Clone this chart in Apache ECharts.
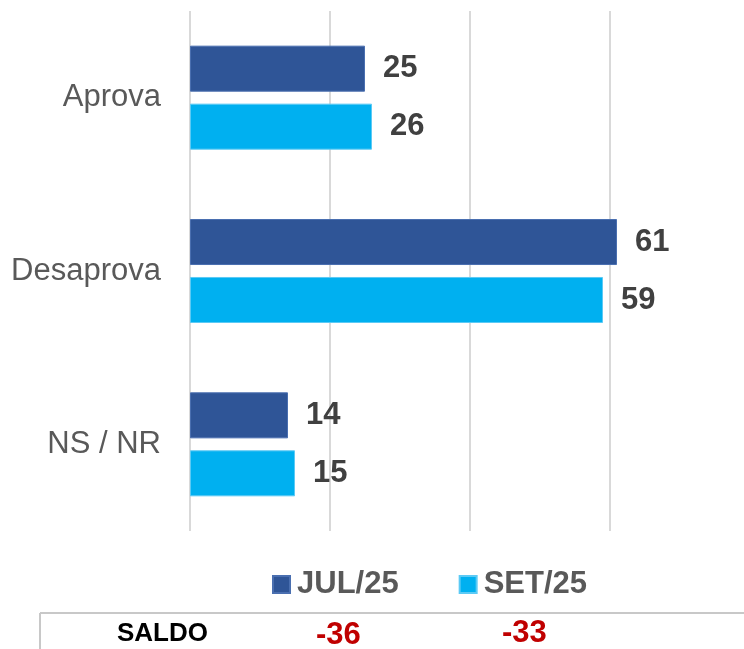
<!DOCTYPE html>
<html>
<head>
<meta charset="utf-8">
<script src="https://cdn.jsdelivr.net/npm/echarts@6/dist/echarts.min.js"></script>
<style>
  html, body { margin: 0; padding: 0; background: #fff; }
  #chart { width: 744px; height: 649px; }
</style>
</head>
<body>
<div id="chart"></div>
<script>
// categories and values
var categories = ["Aprova", "Desaprova", "NS / NR"];
var jul25 = [25, 61, 14];
var set25 = [26, 59, 15];
var seriesNames = ["JUL/25", "SET/25"];
var saldoLabel = "SALDO";
var saldo = ["-36", "-33"];

var font = "Liberation Sans, Arial, sans-serif";

var chart = echarts.init(document.getElementById("chart"));

var labelStyle = {
  show: true,
  position: "right",
  distance: 18,
  formatter: "{c}",
  color: "#404040",
  fontSize: 31,
  fontWeight: "bold",
  fontFamily: font
};

var option = {
  animation: false,
  grid: { left: 190, right: 0, top: 11, bottom: 118 },
  xAxis: {
    type: "value",
    min: 0,
    max: 79.14,
    interval: 20,
    axisLabel: { show: false },
    axisLine: { show: false },
    axisTick: { show: false },
    splitLine: { showMaxLine: false, lineStyle: { color: "#d9d9d9", width: 2 } }
  },
  yAxis: {
    type: "category",
    inverse: true,
    data: categories,
    axisLine: { show: false },
    axisTick: { show: false },
    axisLabel: {
      margin: 29,
      fontSize: 31,
      color: "#595959",
      fontFamily: font
    }
  },
  legend: {
    data: seriesNames,
    left: 267,
    top: 564,
    icon: "rect",
    itemWidth: 17,
    itemHeight: 17,
    itemGap: 60,
    textStyle: {
      fontSize: 31,
      fontWeight: "bold",
      color: "#595959",
      fontFamily: font,
      padding: [0, 0, 0, 2]
    }
  },
  series: [
    {
      name: seriesNames[0],
      type: "bar",
      data: jul25,
      barGap: "26%",
      barCategoryGap: "40%",
      itemStyle: { color: "#2F5597", borderColor: "#4a6fb0", borderWidth: 1 },
      label: labelStyle
    },
    {
      name: seriesNames[1],
      type: "bar",
      data: set25,
      itemStyle: { color: "#00B0F0", borderColor: "#5ccaf5", borderWidth: 1 },
      label: labelStyle
    }
  ],
  graphic: [
    {
      type: "line",
      shape: { x1: 40, y1: 613, x2: 744, y2: 613 },
      style: { stroke: "#c8c8c8", lineWidth: 2 }
    },
    {
      type: "line",
      shape: { x1: 40, y1: 613, x2: 40, y2: 649 },
      style: { stroke: "#c8c8c8", lineWidth: 2 }
    },
    {
      type: "text",
      left: 117,
      top: 621,
      style: {
        text: saldoLabel,
        fill: "#000",
        font: "bold 26px " + font
      }
    },
    {
      type: "text",
      left: 316,
      top: 620,
      style: {
        text: saldo[0],
        fill: "#C00000",
        font: "bold 31px " + font
      }
    },
    {
      type: "text",
      left: 502,
      top: 618,
      style: {
        text: saldo[1],
        fill: "#C00000",
        font: "bold 31px " + font
      }
    }
  ]
};

chart.setOption(option);
</script>
</body>
</html>
